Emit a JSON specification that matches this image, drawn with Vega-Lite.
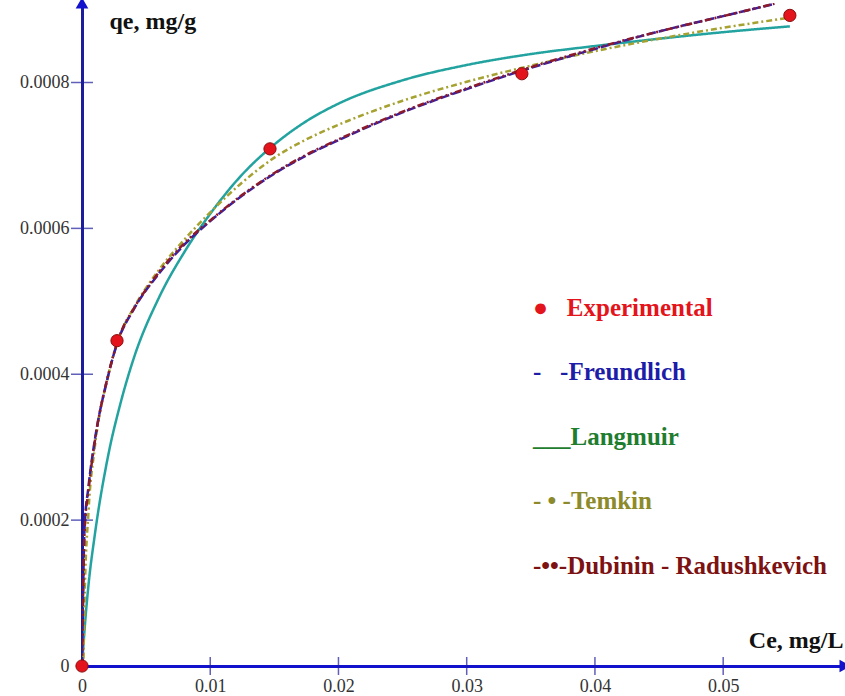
{
  "$schema": "https://vega.github.io/schema/vega-lite/v6.json",
  "autosize": {"type": "none"},
  "padding": {"left": 82, "top": 3, "right": 0, "bottom": 30},
  "width": 763,
  "height": 663,
  "background": "white",
  "config": {"view": {"stroke": null}, "font": "Liberation Serif"},
  "datasets": {
    "curves": [
      {"model": "Langmuir", "Ce": 0, "qe": 0},
      {"model": "Langmuir", "Ce": 0.0002, "qe": 0.00005},
      {"model": "Langmuir", "Ce": 0.0005, "qe": 0.00011},
      {"model": "Langmuir", "Ce": 0.001, "qe": 0.00018},
      {"model": "Langmuir", "Ce": 0.002, "qe": 0.000285},
      {"model": "Langmuir", "Ce": 0.003, "qe": 0.00036},
      {"model": "Langmuir", "Ce": 0.004, "qe": 0.00042},
      {"model": "Langmuir", "Ce": 0.006, "qe": 0.000505},
      {"model": "Langmuir", "Ce": 0.008, "qe": 0.000568},
      {"model": "Langmuir", "Ce": 0.01, "qe": 0.00062},
      {"model": "Langmuir", "Ce": 0.0125, "qe": 0.000674},
      {"model": "Langmuir", "Ce": 0.015, "qe": 0.000715},
      {"model": "Langmuir", "Ce": 0.0175, "qe": 0.000747},
      {"model": "Langmuir", "Ce": 0.02, "qe": 0.000771},
      {"model": "Langmuir", "Ce": 0.025, "qe": 0.000803},
      {"model": "Langmuir", "Ce": 0.03, "qe": 0.000824},
      {"model": "Langmuir", "Ce": 0.035, "qe": 0.000839},
      {"model": "Langmuir", "Ce": 0.04, "qe": 0.00085},
      {"model": "Langmuir", "Ce": 0.045, "qe": 0.00086},
      {"model": "Langmuir", "Ce": 0.05, "qe": 0.000869},
      {"model": "Langmuir", "Ce": 0.0552, "qe": 0.000877},
      {"model": "Temkin", "Ce": 0.00012, "qe": 0.00001},
      {"model": "Temkin", "Ce": 0.0002, "qe": 0.00009},
      {"model": "Temkin", "Ce": 0.0005, "qe": 0.00021},
      {"model": "Temkin", "Ce": 0.001, "qe": 0.0003},
      {"model": "Temkin", "Ce": 0.002, "qe": 0.000395},
      {"model": "Temkin", "Ce": 0.003, "qe": 0.000455},
      {"model": "Temkin", "Ce": 0.004, "qe": 0.00049},
      {"model": "Temkin", "Ce": 0.006, "qe": 0.000543},
      {"model": "Temkin", "Ce": 0.008, "qe": 0.000585},
      {"model": "Temkin", "Ce": 0.01, "qe": 0.000622},
      {"model": "Temkin", "Ce": 0.0125, "qe": 0.000663},
      {"model": "Temkin", "Ce": 0.015, "qe": 0.000697},
      {"model": "Temkin", "Ce": 0.0175, "qe": 0.000722},
      {"model": "Temkin", "Ce": 0.02, "qe": 0.000742},
      {"model": "Temkin", "Ce": 0.025, "qe": 0.000775},
      {"model": "Temkin", "Ce": 0.03, "qe": 0.000801},
      {"model": "Temkin", "Ce": 0.035, "qe": 0.000823},
      {"model": "Temkin", "Ce": 0.04, "qe": 0.000843},
      {"model": "Temkin", "Ce": 0.045, "qe": 0.00086},
      {"model": "Temkin", "Ce": 0.05, "qe": 0.000875},
      {"model": "Temkin", "Ce": 0.0552, "qe": 0.000889},
      {"model": "Freundlich", "Ce": 0, "qe": 0},
      {"model": "Freundlich", "Ce": 0.0002, "qe": 0.00019},
      {"model": "Freundlich", "Ce": 0.0005, "qe": 0.000245},
      {"model": "Freundlich", "Ce": 0.001, "qe": 0.00031},
      {"model": "Freundlich", "Ce": 0.002, "qe": 0.000395},
      {"model": "Freundlich", "Ce": 0.00273, "qe": 0.000442},
      {"model": "Freundlich", "Ce": 0.004, "qe": 0.000488},
      {"model": "Freundlich", "Ce": 0.006, "qe": 0.000538},
      {"model": "Freundlich", "Ce": 0.008, "qe": 0.000578},
      {"model": "Freundlich", "Ce": 0.01, "qe": 0.00061},
      {"model": "Freundlich", "Ce": 0.0125, "qe": 0.000645},
      {"model": "Freundlich", "Ce": 0.015, "qe": 0.000675},
      {"model": "Freundlich", "Ce": 0.0175, "qe": 0.0007},
      {"model": "Freundlich", "Ce": 0.02, "qe": 0.000721},
      {"model": "Freundlich", "Ce": 0.025, "qe": 0.000759},
      {"model": "Freundlich", "Ce": 0.03, "qe": 0.000791},
      {"model": "Freundlich", "Ce": 0.035, "qe": 0.00082},
      {"model": "Freundlich", "Ce": 0.04, "qe": 0.000846},
      {"model": "Freundlich", "Ce": 0.045, "qe": 0.00087},
      {"model": "Freundlich", "Ce": 0.05, "qe": 0.000891},
      {"model": "Freundlich", "Ce": 0.0538, "qe": 0.000907},
      {"model": "Dubinin - Radushkevich", "Ce": 0, "qe": 0},
      {"model": "Dubinin - Radushkevich", "Ce": 0.0002, "qe": 0.000185},
      {"model": "Dubinin - Radushkevich", "Ce": 0.0005, "qe": 0.00024},
      {"model": "Dubinin - Radushkevich", "Ce": 0.001, "qe": 0.000308},
      {"model": "Dubinin - Radushkevich", "Ce": 0.002, "qe": 0.000396},
      {"model": "Dubinin - Radushkevich", "Ce": 0.003, "qe": 0.000456},
      {"model": "Dubinin - Radushkevich", "Ce": 0.004, "qe": 0.000489},
      {"model": "Dubinin - Radushkevich", "Ce": 0.006, "qe": 0.00054},
      {"model": "Dubinin - Radushkevich", "Ce": 0.008, "qe": 0.00058},
      {"model": "Dubinin - Radushkevich", "Ce": 0.01, "qe": 0.000611},
      {"model": "Dubinin - Radushkevich", "Ce": 0.0125, "qe": 0.000646},
      {"model": "Dubinin - Radushkevich", "Ce": 0.015, "qe": 0.000676},
      {"model": "Dubinin - Radushkevich", "Ce": 0.0175, "qe": 0.000701},
      {"model": "Dubinin - Radushkevich", "Ce": 0.02, "qe": 0.000722},
      {"model": "Dubinin - Radushkevich", "Ce": 0.025, "qe": 0.00076},
      {"model": "Dubinin - Radushkevich", "Ce": 0.03, "qe": 0.000792},
      {"model": "Dubinin - Radushkevich", "Ce": 0.035, "qe": 0.000821},
      {"model": "Dubinin - Radushkevich", "Ce": 0.04, "qe": 0.000847},
      {"model": "Dubinin - Radushkevich", "Ce": 0.045, "qe": 0.00087},
      {"model": "Dubinin - Radushkevich", "Ce": 0.05, "qe": 0.000891},
      {"model": "Dubinin - Radushkevich", "Ce": 0.054, "qe": 0.000908}
    ],
    "experimental": [
      {"model": "Experimental", "Ce": 0, "qe": 0},
      {"model": "Experimental", "Ce": 0.00273, "qe": 0.000446},
      {"model": "Experimental", "Ce": 0.01466, "qe": 0.000709},
      {"model": "Experimental", "Ce": 0.0343, "qe": 0.000812},
      {"model": "Experimental", "Ce": 0.0552, "qe": 0.000892}
    ],
    "xticks": [{"Ce": 0.01}, {"Ce": 0.02}, {"Ce": 0.03}, {"Ce": 0.04}, {"Ce": 0.05}],
    "yticks": [{"qe": 0.0002}, {"qe": 0.0004}, {"qe": 0.0006}, {"qe": 0.0008}],
    "xend": [{"Ce": 0.0595, "qe": 0}],
    "yend": [{"Ce": 0, "qe": 0.000909}]
  },
  "layer": [
    {
      "data": {"name": "curves"},
      "mark": {"type": "line", "strokeWidth": 2.5, "interpolate": "monotone", "clip": true},
      "encoding": {
        "x": {
          "field": "Ce", "type": "quantitative",
          "scale": {"domain": [0, 0.0595], "nice": false},
          "axis": {
            "values": [0, 0.01, 0.02, 0.03, 0.04, 0.05],
            "format": "~g",
            "ticks": false,
            "grid": false,
            "domainColor": "#1212cc",
            "domainWidth": 3,
            "labelFont": "Liberation Serif",
            "labelFontSize": 18,
            "labelColor": "#333333",
            "labelPadding": 11,
            "labelFlush": false,
            "title": "Ce, mg/L",
            "titleFont": "Liberation Serif",
            "titleFontSize": 24,
            "titleFontWeight": "bold",
            "titleColor": "#111111",
            "titleAnchor": "end",
            "titleAlign": "right",
            "titleBaseline": "alphabetic",
            "titleX": 761,
            "titleY": -19
          }
        },
        "y": {
          "field": "qe", "type": "quantitative",
          "scale": {"domain": [0, 0.000909], "nice": false},
          "axis": {
            "values": [0, 0.0002, 0.0004, 0.0006, 0.0008],
            "format": "~g",
            "ticks": false,
            "grid": false,
            "domainColor": "#1c1c9c",
            "domainWidth": 3,
            "labelFont": "Liberation Serif",
            "labelFontSize": 18,
            "labelColor": "#333333",
            "labelPadding": 13,
            "labelFlush": false,
            "title": "qe, mg/g",
            "titleFont": "Liberation Serif",
            "titleFontSize": 24,
            "titleFontWeight": "bold",
            "titleColor": "#111111",
            "titleAngle": 0,
            "titleAlign": "left",
            "titleBaseline": "alphabetic",
            "titleX": 27,
            "titleY": 25
          }
        },
        "color": {
          "field": "model", "type": "nominal",
          "scale": {
            "domain": ["Experimental", "Freundlich", "Langmuir", "Temkin", "Dubinin - Radushkevich"],
            "range": ["#e3141b", "#3a1f9e", "#22a3a0", "#a6a232", "#8b1a2b"]
          },
          "legend": {
            "orient": "none",
            "legendX": 426,
            "legendY": 292,
            "title": null,
            "symbolSize": 0,
            "symbolOpacity": 0,
            "symbolStrokeWidth": 0,
            "labelOffset": 0,
            "rowPadding": 38.5,
            "labelFont": "Liberation Serif",
            "labelFontSize": 25,
            "labelFontWeight": "bold",
            "labelLimit": 500,
            "labelExpr": "datum.label == 'Experimental' ? '\u00a0●\u00a0\u00a0\u00a0Experimental' : datum.label == 'Freundlich' ? '-\u00a0\u00a0\u00a0-Freundlich' : datum.label == 'Langmuir' ? '___Langmuir' : datum.label == 'Temkin' ? '-\u00a0•\u00a0-Temkin' : '-••-Dubinin - Radushkevich'",
            "encode": {
              "labels": {
                "update": {
                  "fill": {"signal": "datum.value == 'Experimental' ? '#e3141b' : datum.value == 'Freundlich' ? '#1d1da8' : datum.value == 'Langmuir' ? '#1f7d30' : datum.value == 'Temkin' ? '#8c8a2a' : '#7d1212'"}
                }
              }
            }
          }
        },
        "strokeDash": {
          "field": "model", "type": "nominal",
          "scale": {
            "domain": ["Freundlich", "Langmuir", "Temkin", "Dubinin - Radushkevich"],
            "range": [[9, 3], [1, 0], [6, 3, 2, 3], [7, 3, 2, 3, 2, 3]]
          },
          "legend": null
        }
      }
    },
    {
      "data": {"name": "experimental"},
      "mark": {"type": "point", "filled": true, "size": 150, "stroke": "#8a0d0d", "strokeWidth": 1, "opacity": 1},
      "encoding": {
        "x": {"field": "Ce", "type": "quantitative"},
        "y": {"field": "qe", "type": "quantitative"},
        "fill": {"field": "model", "type": "nominal", "scale": {"domain": ["Experimental"], "range": ["#e3141b"]}, "legend": null}
      }
    },
    {
      "data": {"name": "xticks"},
      "mark": {"type": "tick", "orient": "vertical", "size": 18, "thickness": 1.5, "color": "#1c1c9c"},
      "encoding": {
        "x": {"field": "Ce", "type": "quantitative"},
        "y": {"datum": 0, "type": "quantitative"}
      }
    },
    {
      "data": {"name": "yticks"},
      "mark": {"type": "tick", "orient": "horizontal", "size": 22, "thickness": 1.5, "color": "#1c1c9c"},
      "encoding": {
        "y": {"field": "qe", "type": "quantitative"},
        "x": {"datum": 0, "type": "quantitative"}
      }
    },
    {
      "data": {"name": "xend"},
      "mark": {"type": "point", "shape": "triangle-right", "filled": true, "size": 160, "color": "#1212cc", "opacity": 1},
      "encoding": {
        "x": {"field": "Ce", "type": "quantitative"},
        "y": {"field": "qe", "type": "quantitative"}
      }
    },
    {
      "data": {"name": "yend"},
      "mark": {"type": "point", "shape": "triangle-up", "filled": true, "size": 160, "color": "#1212cc", "opacity": 1},
      "encoding": {
        "x": {"field": "Ce", "type": "quantitative"},
        "y": {"field": "qe", "type": "quantitative"}
      }
    }
  ]
}
